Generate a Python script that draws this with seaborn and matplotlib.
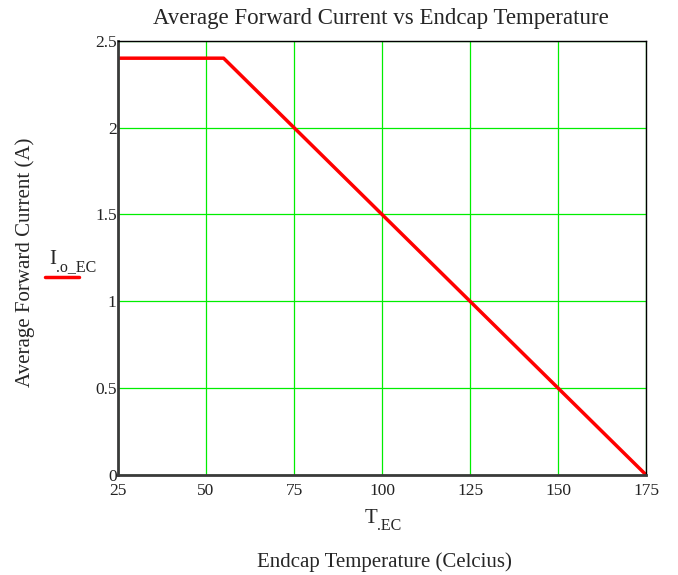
import pandas as pd
import numpy as np
import seaborn as sns
import matplotlib
matplotlib.use("Agg")
import matplotlib.pyplot as plt

# derating curve
temp_ec = [25, 55, 175]
current_ec = [2.4, 2.4, 0.0]
x_ticks = [25, 50, 75, 100, 125, 150, 175]
y_ticks = [0, 0.5, 1, 1.5, 2, 2.5]

df = pd.DataFrame({"T_EC": temp_ec, "I_o_EC": current_ec})

sns.set_style("white")
plt.rcParams['font.family'] = ['Liberation Serif', 'DejaVu Serif']

fig = plt.figure(figsize=(6.78, 5.75), dpi=100)
ax = fig.add_axes([0.174, 0.174, 0.779, 0.755])

sns.lineplot(data=df, x="T_EC", y="I_o_EC", color="red", linewidth=2.5, ax=ax)

ax.set_xlim(25, 175)
ax.set_ylim(0, 2.5)
ax.set_xticks(x_ticks)
ax.set_yticks(y_ticks)
ax.set_xticklabels([str(t) for t in x_ticks])
ax.set_yticklabels(["0", "0.5", "1", "1.5", "2", "2.5"])
ax.grid(True, color="#00ee00", linewidth=0.9)
ax.set_axisbelow(True)
ax.tick_params(length=0, labelsize=12.5, colors="#222222")
ax.tick_params(axis="x", pad=6)
ax.tick_params(axis="y", pad=1)

for s in ["top", "right"]:
    ax.spines[s].set_color("black")
    ax.spines[s].set_linewidth(1.0)
for s in ["bottom", "left"]:
    ax.spines[s].set_color("#3a3a3a")
    ax.spines[s].set_linewidth(2.0)

ax.set_xlabel("")
ax.set_ylabel("")

fig.text(0.562, 0.968, "Average Forward Current vs Endcap Temperature",
         ha="center", va="center", fontsize=16.5)
fig.text(0.037, 0.543, "Average Forward Current (A)", rotation=90,
         ha="center", va="center", fontsize=15)
fig.text(0.567, 0.022, "Endcap Temperature (Celcius)",
         ha="center", va="center", fontsize=15)

# x variable name with subscript
fig.text(0.556, 0.098, "T", ha="right", va="center", fontsize=15)
fig.text(0.556, 0.085, ".EC", ha="left", va="center", fontsize=11.5)

# legend label on the left like the original
fig.text(0.083, 0.548, "I", ha="right", va="center", fontsize=15)
fig.text(0.083, 0.535, ".o_EC", ha="left", va="center", fontsize=11.5)
fig.add_artist(plt.Line2D([0.066, 0.117], [0.518, 0.518], color="red",
                          linewidth=2.5, transform=fig.transFigure))

plt.savefig("out.png", dpi=100)
